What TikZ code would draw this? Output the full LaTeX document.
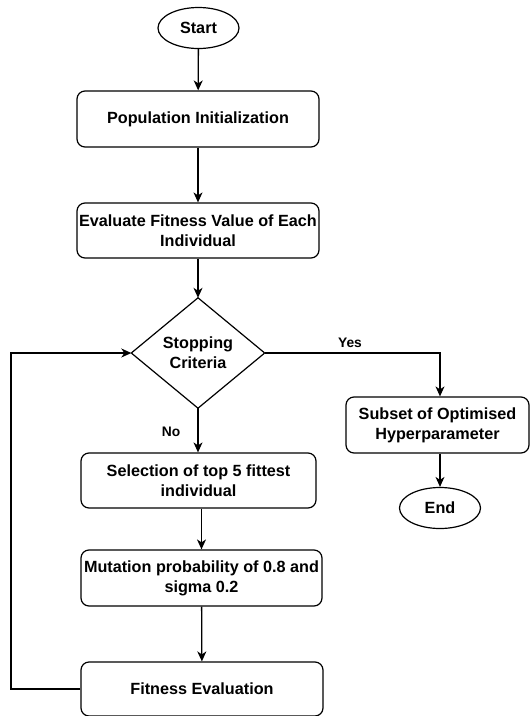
\documentclass[tikz,border=0pt]{standalone}
\usepackage{fontspec}
\setmainfont{Liberation Sans}
\usetikzlibrary{arrows.meta,shapes.geometric}
\begin{document}
\begin{tikzpicture}[x=1pt,y=-1pt,
  box/.style={draw, rounded corners=8pt, line width=1.2pt, align=center, inner sep=1pt,
    font=\fontsize{16.2}{20}\selectfont\bfseries},
  term/.style={draw, ellipse, line width=1.2pt, inner sep=0pt,
    minimum width=81pt, minimum height=41pt, font=\fontsize{16.2}{20}\selectfont\bfseries},
  arr/.style={line width=1.3pt, -{Stealth[length=10pt,width=9pt,inset=3pt]}},
  lab/.style={font=\fontsize{13.8}{16}\selectfont\bfseries, inner sep=0pt}]
\useasboundingbox (0,0) rectangle (530,716);
\node[term] (start) at (198.5,28) {Start};
\node[box, minimum width=242pt, minimum height=56pt] (pop) at (198,119) {Population Initialization};
\node[box, minimum width=242pt, minimum height=55pt] (eval) at (198,230.5) {Evaluate Fitness Value of Each\\Individual};
\node[minimum width=133pt, minimum height=110pt, inner sep=0pt, align=center,
  font=\fontsize{16.2}{20}\selectfont\bfseries] (dia) at (198,353) {Stopping\\Criteria};
\draw[line width=1.2pt] (dia.north) -- (dia.east) -- (dia.south) -- (dia.west) -- cycle;
\node[box, minimum width=183pt, minimum height=56pt] (sub) at (437.5,425) {Subset of Optimised\\Hyperparameter};
\node[term] (end) at (440,508) {End};
\node[box, minimum width=235pt, minimum height=55pt] (sel) at (198.5,480.5) {Selection of top 5 fittest\\individual};
\node[box, minimum width=241pt, minimum height=56pt] (mut) at (201.5,578) {Mutation probability of 0.8 and\\sigma 0.2};
\node[box, minimum width=242pt, minimum height=54pt] (fit) at (202,689) {Fitness Evaluation};
\coordinate (yc) at (440,353);
\coordinate (l1) at (11,689);
\coordinate (l2) at (11,353);
\draw[arr] (start) -- (pop);
\draw[arr] (pop) -- (eval);
\draw[arr] (eval) -- (dia.north);
\draw[arr] (dia.south) -- (dia.south |- sel.north);
\draw[arr] (mut.north |- sel.south) -- (mut.north);
\draw[arr] (mut) -- (fit);
\draw[arr] (dia.east) -- (yc) -- (sub.north -| yc);
\draw[arr] (sub.south -| end.north) -- (end.north);
\draw[arr] (fit.west) -- (l1) -- (l2) -- (dia.west);
\node[lab] (yes) at (350,343) {Yes};
\node[lab] (no) at (171,432) {No};
\end{tikzpicture}
\end{document}
